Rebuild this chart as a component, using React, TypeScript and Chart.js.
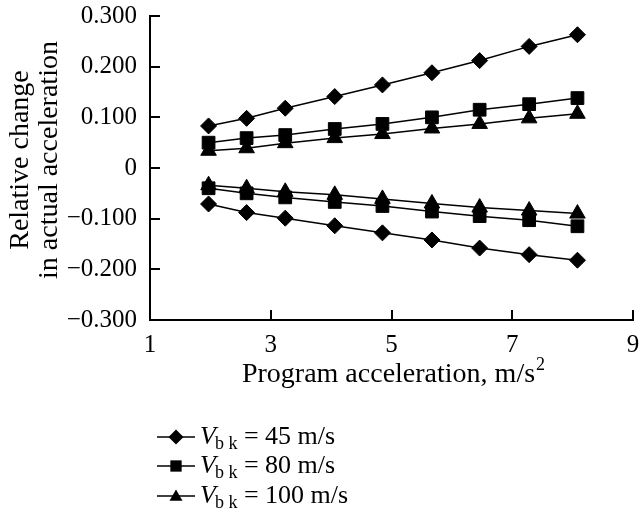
import React, { useEffect, useRef } from "react";
import { Chart, registerables } from "chart.js";

Chart.register(...registerables);

const xValues = [1.97, 2.6, 3.24, 4.06, 4.85, 5.67, 6.46, 7.28, 8.08];
const pos45 = [0.083, 0.098, 0.118, 0.141, 0.164, 0.188, 0.212, 0.24, 0.263];
const pos80 = [0.05, 0.059, 0.065, 0.077, 0.087, 0.1, 0.115, 0.126, 0.138];
const pos100 = [0.034, 0.039, 0.049, 0.059, 0.067, 0.078, 0.087, 0.098, 0.107];
const neg45 = [-0.071, -0.088, -0.099, -0.114, -0.128, -0.142, -0.158, -0.171, -0.182];
const neg80 = [-0.04, -0.05, -0.058, -0.067, -0.075, -0.086, -0.095, -0.103, -0.115];
const neg100 = [-0.034, -0.04, -0.047, -0.053, -0.061, -0.07, -0.078, -0.084, -0.09];
const legendValues = ["45 m/s", "80 m/s", "100 m/s"];
const legendStyles = ["rectRot", "rect", "triangle"];
const yTickValues = [-0.3, -0.2, -0.1, 0, 0.1, 0.2, 0.3];
const xTickValues = [1, 3, 5, 7, 9];
const yTitleLines = ["Relative change", "in actual acceleration"];
const xTitle = "Program acceleration, m/s";
const xTitleSup = "2";

const SERIF = "'Liberation Serif', 'Times New Roman', serif";

const styleRadius: Record<string, number> = { rectRot: 8, rect: 9, triangle: 9 };

function mk(data: number[], style: string) {
  return {
    data: data.map((y, i) => ({ x: xValues[i], y })),
    borderColor: "#000",
    backgroundColor: "#000",
    borderWidth: 1.5,
    pointStyle: style,
    pointRadius: styleRadius[style],
    pointBorderWidth: 1,
    pointBorderColor: "#000",
    pointBackgroundColor: "#000",
    showLine: true,
    fill: false,
    tension: 0,
  };
}

function drawMarker(ctx: CanvasRenderingContext2D, style: string, x: number, y: number, r: number) {
  ctx.beginPath();
  if (style === "rectRot") {
    ctx.moveTo(x, y - r);
    ctx.lineTo(x + r, y);
    ctx.lineTo(x, y + r);
    ctx.lineTo(x - r, y);
  } else if (style === "rect") {
    const s = Math.SQRT1_2 * r;
    ctx.rect(x - s, y - s, 2 * s, 2 * s);
  } else {
    ctx.moveTo(x, y - r);
    ctx.lineTo(x + r * Math.sin(Math.PI / 3), y + r / 2);
    ctx.lineTo(x - r * Math.sin(Math.PI / 3), y + r / 2);
  }
  ctx.closePath();
  ctx.fill();
}

const decorPlugin = {
  id: "decor",
  afterDraw(chart: any) {
    const ctx: CanvasRenderingContext2D = chart.ctx;
    const xs = chart.scales.x;
    const ys = chart.scales.y;
    const area = chart.chartArea;
    ctx.save();
    ctx.strokeStyle = "#000";
    ctx.fillStyle = "#000";
    ctx.lineWidth = 2;
    // inward ticks
    yTickValues.forEach((v) => {
      const py = Math.round(ys.getPixelForValue(v));
      ctx.beginPath();
      ctx.moveTo(area.left, py);
      ctx.lineTo(area.left + 10, py);
      ctx.stroke();
    });
    xTickValues.slice(1).forEach((v) => {
      const px = Math.round(xs.getPixelForValue(v));
      ctx.beginPath();
      ctx.moveTo(px, area.bottom);
      ctx.lineTo(px, area.bottom - 10);
      ctx.stroke();
    });

    // y title
    ctx.font = `28px ${SERIF}`;
    ctx.textAlign = "center";
    ctx.textBaseline = "middle";
    const yCenters = [21, 50];
    yTitleLines.forEach((line, i) => {
      ctx.save();
      ctx.translate(yCenters[i], 160);
      ctx.rotate(-Math.PI / 2);
      ctx.fillText(line, 0, 0);
      ctx.restore();
    });

    // x title with superscript
    ctx.textBaseline = "alphabetic";
    ctx.textAlign = "left";
    ctx.font = `28px ${SERIF}`;
    const mainW = ctx.measureText(xTitle).width;
    ctx.font = `18px ${SERIF}`;
    const supW = ctx.measureText(xTitleSup).width;
    const cx = (area.left + area.right) / 2 + 2;
    const startX = cx - (mainW + supW + 1) / 2;
    ctx.font = `28px ${SERIF}`;
    ctx.fillText(xTitle, startX, 382);
    ctx.font = `18px ${SERIF}`;
    ctx.fillText(xTitleSup, startX + mainW + 1, 370);

    // legend
    const rowBase = [444, 473, 503];
    legendValues.forEach((val, i) => {
      const base = rowBase[i];
      const my = base - 7;
      ctx.lineWidth = 1.5;
      ctx.beginPath();
      ctx.moveTo(157, my);
      ctx.lineTo(195, my);
      ctx.stroke();
      drawMarker(ctx, legendStyles[i], 176, my + (legendStyles[i] === "triangle" ? 1 : 0), legendStyles[i] === "rect" ? 8 : 7.5);
      let x = 200;
      ctx.font = `italic 26px ${SERIF}`;
      ctx.fillText("V", x, base);
      x += ctx.measureText("V").width - 1;
      ctx.font = `18px ${SERIF}`;
      ctx.fillText("b k", x, base + 5);
      x += ctx.measureText("b k").width;
      ctx.font = `26px ${SERIF}`;
      ctx.fillText(" = " + val, x, base);
    });
    ctx.restore();
  },
};

export default function App() {
  const ref = useRef<HTMLCanvasElement | null>(null);
  useEffect(() => {
    if (!ref.current) return;
    const chart = new Chart(ref.current, {
      type: "scatter",
      data: {
        datasets: [
          mk(pos45, "rectRot"),
          mk(pos80, "rect"),
          mk(pos100, "triangle"),
          mk(neg45, "rectRot"),
          mk(neg80, "rect"),
          mk(neg100, "triangle"),
        ] as any,
      },
      options: {
        responsive: false,
        devicePixelRatio: 1,
        animation: false,
        layout: { padding: { left: 0, top: 16, right: 5, bottom: 0 } },
        plugins: { legend: { display: false }, tooltip: { enabled: false } },
        scales: {
          x: {
            type: "linear",
            min: 1,
            max: 9,
            grid: { display: false, drawTicks: false },
            border: { display: true, color: "#000", width: 2 },
            ticks: {
              stepSize: 2,
              padding: 10,
              color: "#000",
              font: { family: SERIF, size: 25 },
              maxRotation: 0,
              autoSkip: false,
            },
            afterFit: (s: any) => {
              s.height = 196;
              s.paddingLeft = 0;
              s.paddingRight = 0;
            },
          },
          y: {
            type: "linear",
            min: -0.3,
            max: 0.3,
            grid: { display: false, drawTicks: false },
            border: { display: true, color: "#000", width: 2 },
            ticks: {
              stepSize: 0.1,
              padding: 13,
              color: "#000",
              font: { family: SERIF, size: 25 },
              callback: (v: any) => {
                const n = Number(Number(v).toFixed(3));
                if (n === 0) return "0";
                return (n < 0 ? "\u2212" : "") + Math.abs(n).toFixed(3);
              },
            },
            afterFit: (s: any) => {
              s.width = 150;
              s.paddingTop = 0;
              s.paddingBottom = 0;
            },
          },
        },
      } as any,
      plugins: [decorPlugin],
    });
    return () => chart.destroy();
  }, []);
  return (
    <div style={{ position: "absolute", left: 0, top: 0, width: 643, height: 516, background: "#fff" }}>
      <canvas ref={ref} width={643} height={516} style={{ display: "block" }} />
    </div>
  );
}
